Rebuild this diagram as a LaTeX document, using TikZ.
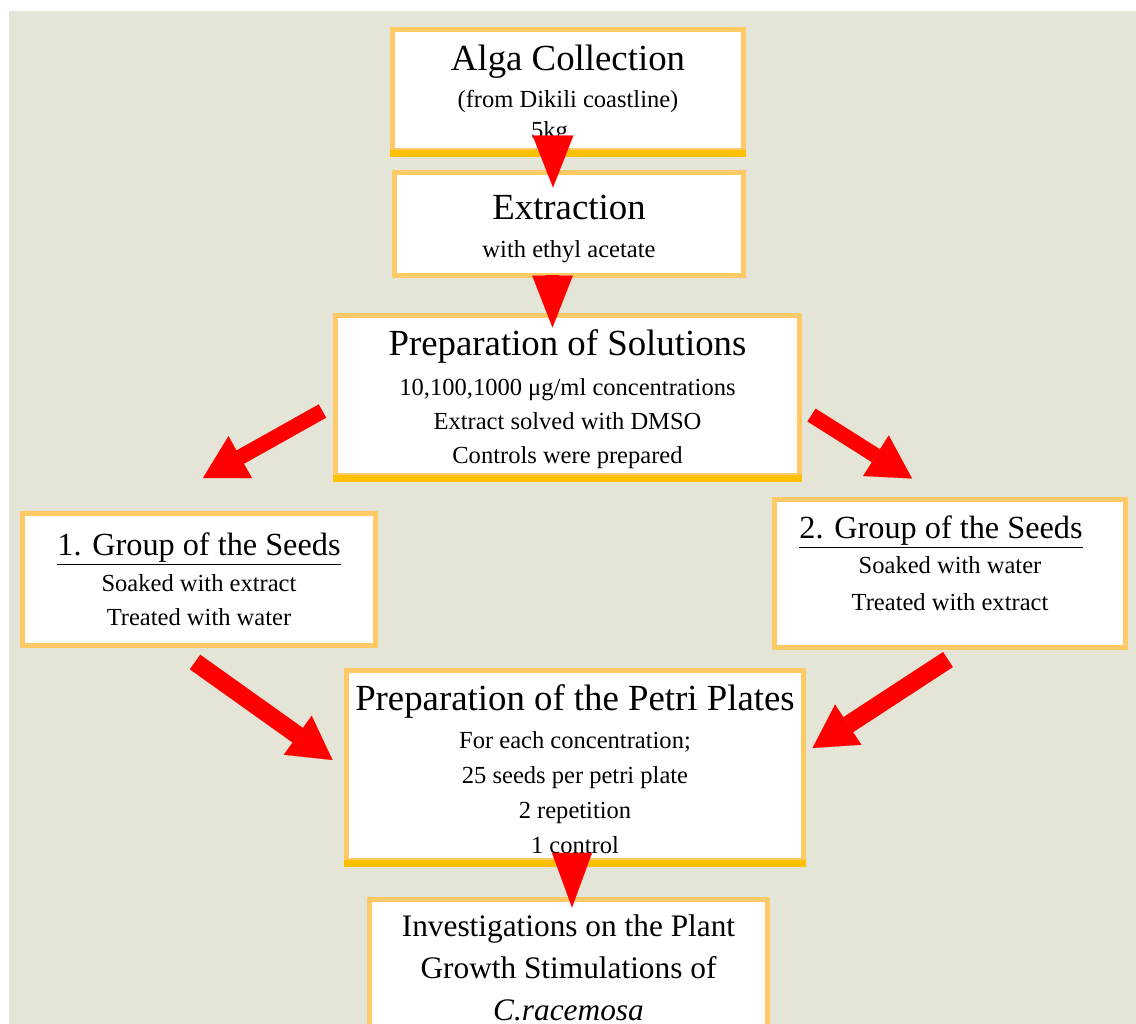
\documentclass[tikz,border=0pt]{standalone}
\usepackage{fontspec}
\setmainfont{Liberation Serif}
\usetikzlibrary{positioning}
\usetikzlibrary{arrows.meta,shapes}
\usetikzlibrary{calc}

\definecolor{bgbeige}{HTML}{E4E5D6}
\definecolor{boxorange}{HTML}{FFC966}
\definecolor{boxyellow}{HTML}{FFC000}
\definecolor{arrowred}{HTML}{FF0000}

\begin{document}
\begin{tikzpicture}[x=0.75pt, y=-0.75pt,
	box/.style={draw=boxorange, line width=3.75pt, fill=white, align=center, inner sep=2pt, font=\fontsize{18.4}{25.5}\selectfont},
	botline/.style={draw=boxyellow, line width=5.25pt},
	redarrow/.style={draw=arrowred, line width=11.5pt, -{Triangle[width=36pt,length=32pt,line width=0.1pt]}},
	redhead/.style={draw=arrowred, line width=0.1pt, -{Triangle[width=30.5pt,length=39pt,line width=0.1pt]}}]

	\def\px{0.75pt}
	\def\ttl#1{{\fontsize{27.6}{30}\selectfont\rule{0pt}{25.5pt}#1}}
	\def\gttl#1{{\fontsize{24.2}{28}\selectfont\underline{#1}}}

	\clip (0,0) rectangle (1136,1024);
	\fill[bgbeige] (9,11) rectangle (1136,1024);

	% boxes
	\node[box, minimum width=351*\px, minimum height=121*\px, font=\fontsize{18.4}{23.25}\selectfont] (alga) at (568,90)
		{\ttl{Alga Collection}\\[4.5pt] (from Dikili coastline)\\ 5kg\hspace*{27.75pt}};
	\node[box, minimum width=349*\px, minimum height=103*\px] (extr) at (569,224)
		{\ttl{Extraction}\\[3pt] with ethyl acetate};
	\node[box, minimum width=464*\px, minimum height=160*\px] (sol) at (567.5,395.5)
		{\ttl{Preparation of Solutions}\\[4.5pt] 10,100,1000 μg/ml concentrations\\ Extract solved with DMSO\\ Controls were prepared};
	\node[box, minimum width=353*\px, minimum height=132*\px] (grp1) at (199,579)
		{\gttl{1. Group of the Seeds}\\[1.5pt] Soaked with extract\\ Treated with water};
	\node[box, minimum width=351*\px, minimum height=148*\px] (grp2) at (950,573.5)
		{\gttl{2. Group of the Seeds}\hspace*{13.5pt}\\[0.75pt] Soaked with water\\[2.25pt] Treated with extract\rule[-15.75pt]{0pt}{15.75pt}};
	\node[box, minimum width=457*\px, minimum height=190*\px, font=\fontsize{18.4}{26.25}\selectfont] (petri) at (575,765.5)
		{\ttl{Preparation of the Petri Plates}\\[2.25pt] For each concentration;\\ 25 seeds per petri plate\\ 2 repetition\\ 1 control};
	\node[box, minimum width=398*\px, minimum height=137.6*\px, font=\fontsize{23.5}{31.5}\selectfont] (inv) at (568.5,968.3)
		{Investigations on the Plant\\ Growth Stimulations of\\ \textit{C.racemosa}};

	\draw[botline] (alga.south west) -- (alga.south east);
	\draw[botline] (sol.south west) -- (sol.south east);
	\draw[botline] (petri.south west) -- (petri.south east);

	% arrows
	\draw[redhead] ($(alga.south)+(-15,-13)$) -- ($(extr.north)+(-16,17.5)$);
	\draw[redhead, line width=9.75pt] ($(extr.south)+(-16.5,-3.5)$) -- ($(sol.north)+(-15,14.5)$);
	\draw[redarrow] ($(sol.west)+(-10.5,15.5)$) -- ($(grp1.north)+(4,-32.5)$);
	\draw[redarrow] ($(sol.east)+(9.5,19.5)$) -- ($(grp2.north)+(-38,-18.5)$);
	\draw[redarrow, line width=13.5pt] ($(grp1.south)+(-4,14.5)$) -- ($(petri.west)+(-11.5,-5.5)$);
	\draw[redarrow, line width=13.5pt] ($(grp2.south)+(-2,9.5)$) -- ($(petri.east)+(6.5,-17.5)$);
	\draw[redhead, -{Triangle[width=30pt,length=41pt,line width=0.1pt]}] ($(petri.south)+(-3,-5.5)$) -- ($(inv.north)+(3.5,10.5)$);

\end{tikzpicture}
\end{document}
